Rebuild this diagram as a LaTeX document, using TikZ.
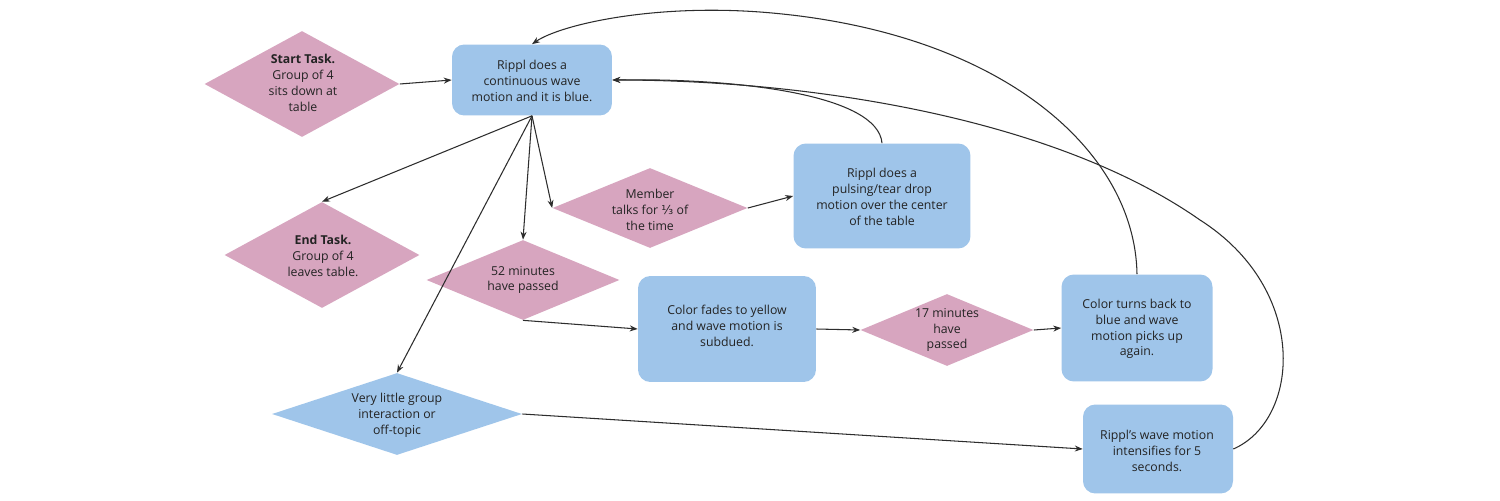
\documentclass[tikz,border=0pt]{standalone}
\usepackage{fontspec}
\setmainfont{Open Sans}
\newfontfamily\djv{DejaVu Sans}
\usetikzlibrary{shapes.geometric,arrows.meta}
\definecolor{pinkfill}{RGB}{215,165,191}
\definecolor{bluefill}{RGB}{159,197,234}
\definecolor{inkc}{RGB}{35,35,35}
\definecolor{linec}{RGB}{45,45,45}
\tikzset{
  boxn/.style={draw=none, fill=bluefill, rectangle, rounded corners=7pt, inner sep=0pt},
  pinkd/.style={draw=none, fill=pinkfill, diamond, inner sep=0pt},
  blued/.style={draw=none, fill=bluefill, diamond, inner sep=0pt},
  txt/.style={align=center, text=inkc, inner sep=0pt, font=\fontsize{7}{9}\selectfont},
  conn/.style={draw=linec, line width=0.6pt, -{Stealth[length=4.5pt,width=3.4pt]}},
  plain/.style={draw=linec, line width=0.6pt}
}
\begin{document}
\begin{tikzpicture}[x=0.02cm,y=-0.02cm]
\useasboundingbox[fill=white] (0,0) rectangle (1500,500);
% shapes
\node[pinkd, minimum width=3.9cm, minimum height=2.12cm] (start) at (302,84) {};
\node[boxn, minimum width=3.2cm, minimum height=1.42cm] (rippl) at (532,80) {};
\node[pinkd, minimum width=3.9cm, minimum height=2.12cm] (endt) at (322,255) {};
\node[pinkd, minimum width=3.86cm, minimum height=1.6cm] (m52) at (523,280) {};
\node[pinkd, minimum width=3.9cm, minimum height=1.6cm] (member) at (650,208) {};
\node[boxn, minimum width=3.54cm, minimum height=2.1cm] (pulse) at (882,196) {};
\node[boxn, minimum width=3.56cm, minimum height=2.12cm] (fades) at (727,329) {};
\node[pinkd, minimum width=3.46cm, minimum height=1.44cm] (m17) at (947,330) {};
\node[boxn, minimum width=3.02cm, minimum height=2.14cm] (back) at (1137,328) {};
\node[boxn, minimum width=3.0cm, minimum height=1.78cm] (intens) at (1158,449) {};
\node[blued, minimum width=5.0cm, minimum height=1.64cm] (little) at (397,414) {};
% texts
\node[txt] (startT) at (303,83) {\textbf{Start Task.}\\Group of 4\\sits down at\\table};
\node[txt] (ripplT) at (532,81) {Rippl does a\\continuous wave\\motion and it is blue.};
\node[txt] (endT) at (323,256) {\textbf{End Task.}\\Group of 4\\leaves table.};
\node[txt] (m52T) at (523,280) {52 minutes\\have passed};
\node[txt] (memberT) at (650,210) {Member\\talks for {\djv ⅓} of\\the time};
\node[txt] (pulseT) at (882,197) {Rippl does a\\pulsing/tear drop\\motion over the center\\of the table};
\node[txt] (fadesT) at (727,326) {Color fades to yellow\\and wave motion is\\subdued.};
\node[txt] (m17T) at (947,330) {17 minutes\\have\\passed};
\node[txt] (backT) at (1137,329) {Color turns back to\\blue and wave\\motion picks up\\again.};
\node[txt] (intensT) at (1157,451) {Rippl's wave motion\\intensifies for 5\\seconds.};
\node[txt] (littleT) at (397,415) {Very little group\\interaction or\\off-topic};
% connectors
\draw[conn] (start.east) -- (rippl.west);
\draw[conn] (rippl.south) -- (endt.north);
\draw[conn] (rippl.south) -- (member.west);
\draw[conn] (rippl.south) -- (m52.north);
\draw[conn] (rippl.south) -- (little.north);
\draw[conn] (member.east) -- (pulse.west);
\draw[conn] (pulse.north) .. controls (878,95) and (740,78) .. (rippl.east);
\draw[conn] (m52.south) -- (fades.west);
\draw[conn] (fades.east) -- (m17.west);
\draw[conn] (m17.east) -- (back.west);
\draw[conn] (little.east) -- (intens.west);
\draw[conn] (back.north) .. controls (1135,150) and (1000,30) .. (760,12) .. controls (650,4) and (560,25) .. (rippl.north);
\draw[conn] (intens.east) .. controls (1300,420) and (1310,290) .. (1200,220) .. controls (1050,115) and (800,80) .. (rippl.east);
\end{tikzpicture}
\end{document}
